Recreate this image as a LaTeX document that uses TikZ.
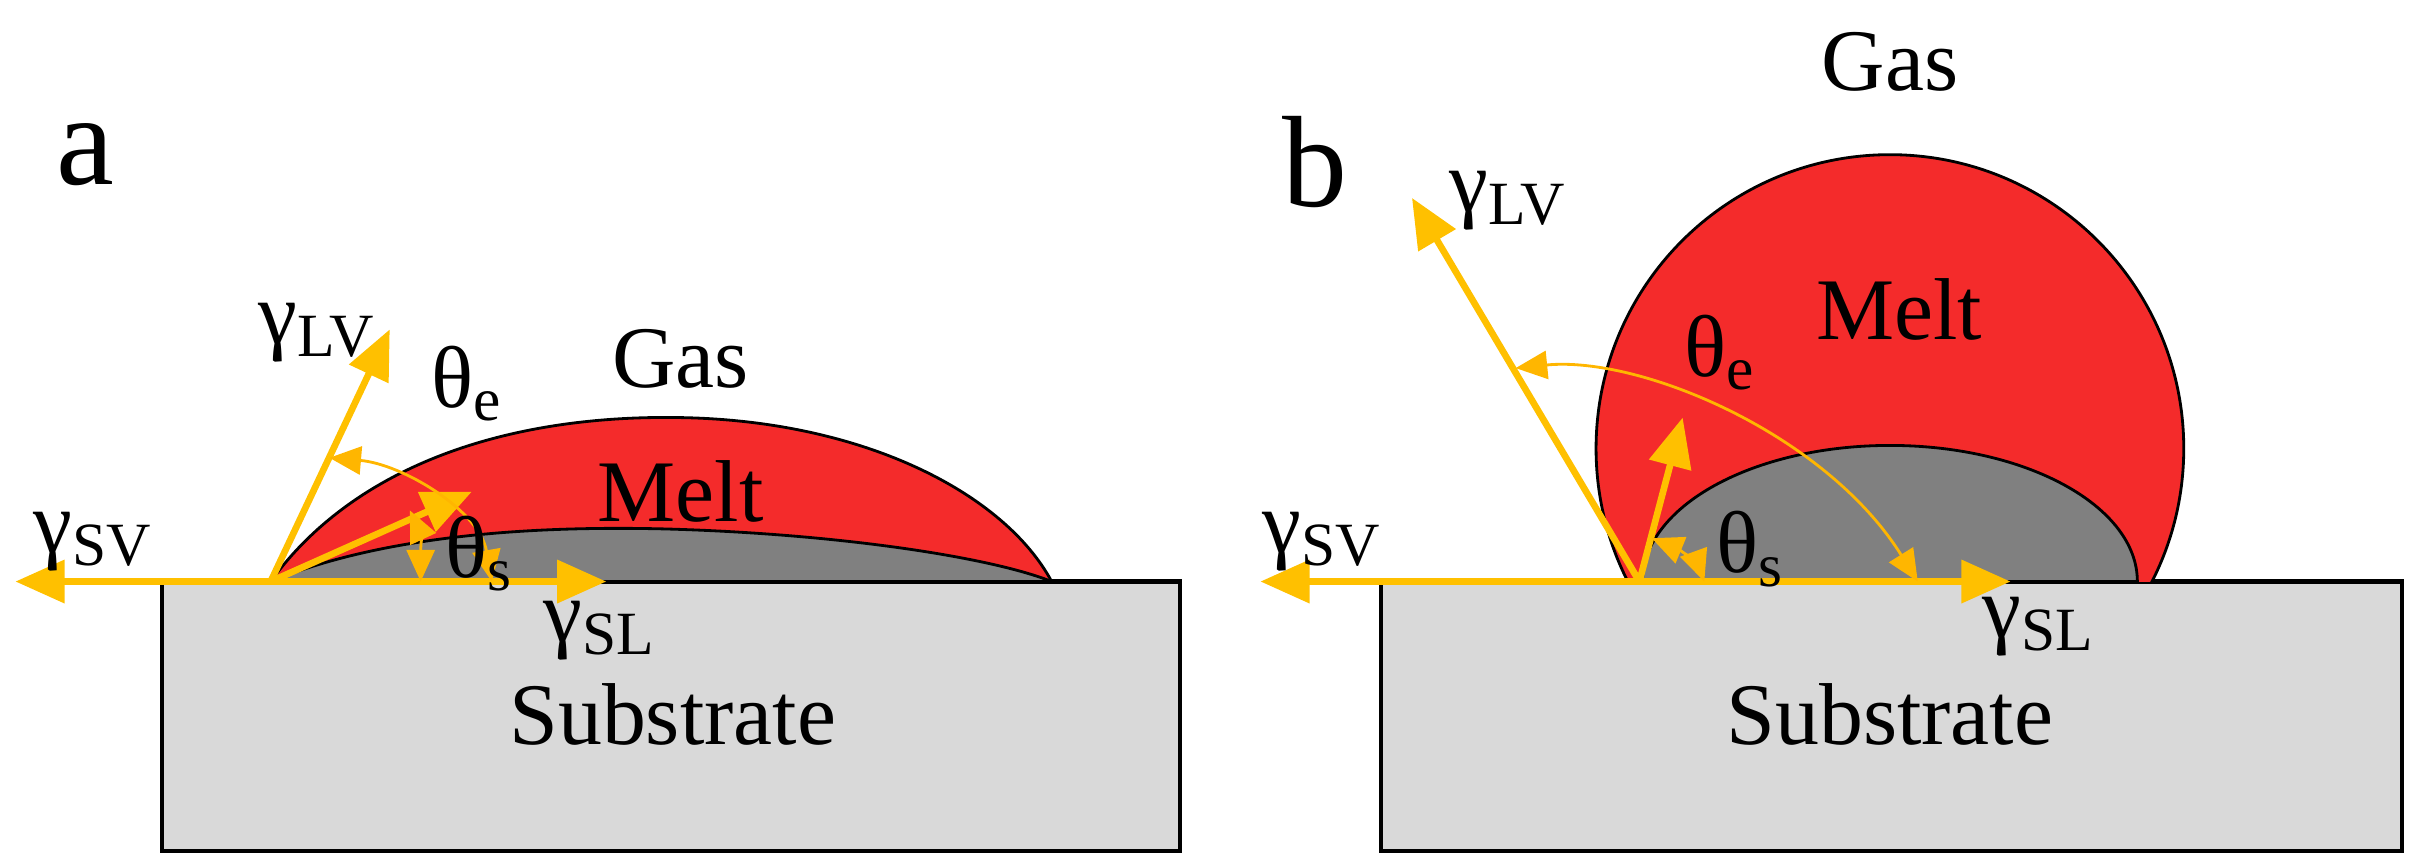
\documentclass[tikz,border=0pt]{standalone}
\usepackage{fontspec}
\setmainfont{Liberation Serif}
\usetikzlibrary{arrows.meta}
\definecolor{meltcol}{HTML}{F42B2B}
\definecolor{solidcol}{HTML}{808080}
\definecolor{subcol}{HTML}{D9D9D9}
\definecolor{veccol}{HTML}{FFC000}
\tikzset{
 vecarrow/.style={draw=veccol,line width=1.9pt,-{Triangle[length=14pt,width=12pt]}},
 anglearc/.style={draw=veccol!85!orange,line width=0.8pt,{Triangle[length=9pt,width=8pt]}-{Triangle[length=9pt,width=8pt]}},
 lbl/.style={font=\fontsize{25}{28}\selectfont,inner sep=0pt},
 big/.style={font=\fontsize{37}{40}\selectfont,inner sep=0pt},
 substrate/.style={fill=subcol,draw=black,line width=1.2pt}
}
\begin{document}
\begin{tikzpicture}[x=0.01547cm,y=-0.01547cm]
\useasboundingbox (0,0) rectangle (1568,561);
% ---------- panel a
\draw[substrate] (105,376) rectangle (763,550);
\node (subA) at (434,463) {};
\filldraw[fill=meltcol,draw=black,line width=0.8pt] (175,376) .. controls (230,300) and (330,268) .. (440,270) .. controls (560,272) and (650,320) .. (680,376) -- cycle;
\filldraw[fill=solidcol,draw=black,line width=0.8pt] (175,376) .. controls (250,345) and (350,340) .. (430,342) .. controls (540,345) and (640,360) .. (680,376) -- cycle;
\coordinate (cA) at (175,376);
\coordinate (svA) at (10,376);
\coordinate (slA) at (392,376);
\coordinate (lvA) at (252,213);
\coordinate (tsA) at (305,318);
\draw[vecarrow] (cA) -- (svA);
\draw[vecarrow] (cA) -- (slA);
\draw[vecarrow] (cA) -- (lvA);
\draw[vecarrow] (cA) -- (tsA);
\draw[anglearc] (213,296) .. controls (260,300) and (310,330) .. (318,376);
\draw[anglearc] (265,330) .. controls (272,345) and (272,360) .. (272,376);
\node[lbl] (gsvA) at (60,350) {γ\textsubscript{SV}};
\node[lbl] (gslA) at (388,408) {γ\textsubscript{SL}};
\node[lbl] (glvA) at (205,215) {γ\textsubscript{LV}};
\node[lbl] (teA) at (302,248) {θ\textsubscript{e}};
\node[lbl] (tsA2) at (310,358) {θ\textsubscript{s}};
\node[lbl] (gasA) at (440,232) {Gas};
\node[lbl] (meltA) at (440,318) {Melt};
\node[lbl] (subtA) at (435,462) {Substrate};
\node[big] (labA) at (55,100) {a};
% ---------- panel b
\draw[substrate] (893,376) rectangle (1553,550);
\begin{scope}
\clip (800,0) rectangle (1600,376);
\filldraw[fill=meltcol,draw=black,line width=0.8pt] (1222,290) circle (190);
\end{scope}
\filldraw[fill=solidcol,draw=black,line width=0.8pt] (1062,376) arc[start angle=180,end angle=0,x radius=160,y radius=-88] -- cycle;
\coordinate (cB) at (1060,376);
\coordinate (svB) at (815,376);
\coordinate (slB) at (1300,376);
\coordinate (lvB) at (913,128);
\coordinate (tsB) at (1088,270);
\draw[vecarrow] (cB) -- (svB);
\draw[vecarrow] (cB) -- (slB);
\draw[vecarrow] (cB) -- (lvB);
\draw[vecarrow] (cB) -- (tsB);
\draw[anglearc] (980,238) .. controls (1060,230) and (1180,280) .. (1240,376);
\draw[anglearc] (1068,348) .. controls (1085,355) and (1098,365) .. (1102,376);
\node[lbl] (gsvB) at (855,350) {γ\textsubscript{SV}};
\node[lbl] (gslB) at (1318,405) {γ\textsubscript{SL}};
\node[lbl] (glvB) at (975,130) {γ\textsubscript{LV}};
\node[lbl] (teB) at (1112,228) {θ\textsubscript{e}};
\node[lbl] (tsB2) at (1132,355) {θ\textsubscript{s}};
\node[lbl] (gasB) at (1222,40) {Gas};
\node[lbl] (meltB) at (1228,200) {Melt};
\node[lbl] (subtB) at (1222,462) {Substrate};
\node[big] (labB) at (850,105) {b};
\end{tikzpicture}
\end{document}
